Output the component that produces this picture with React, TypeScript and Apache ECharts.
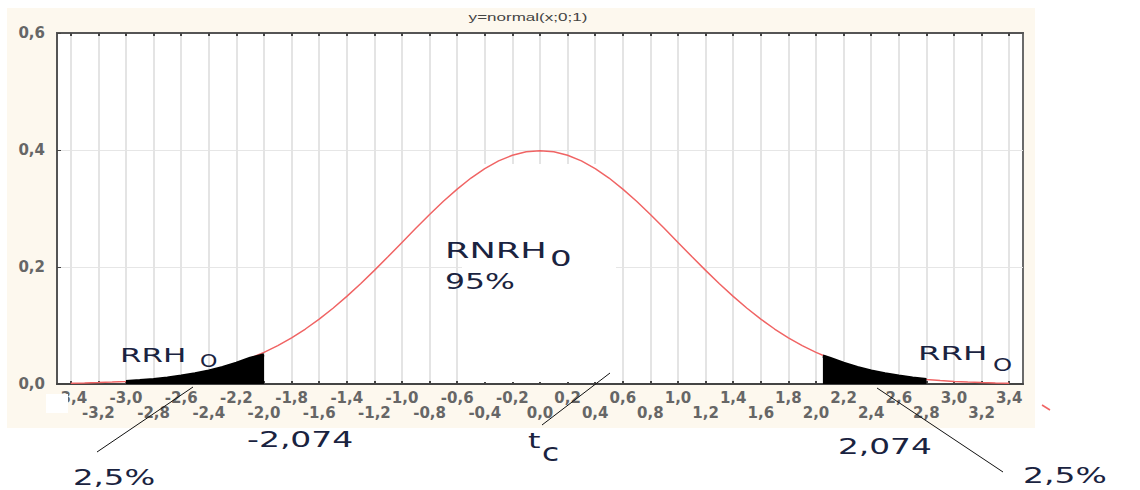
import React, { useEffect, useRef } from "react";
import * as echarts from "echarts";

// x positions of the plotted normal density curve
const curveX = [
  -3.4, -3.3, -3.2, -3.1, -3.0, -2.9, -2.8, -2.7, -2.6, -2.5, -2.4, -2.3, -2.2, -2.1, -2.0,
  -1.9, -1.8, -1.7, -1.6, -1.5, -1.4, -1.3, -1.2, -1.1, -1.0, -0.9, -0.8, -0.7, -0.6, -0.5,
  -0.4, -0.3, -0.2, -0.1, 0.0, 0.1, 0.2, 0.3, 0.4, 0.5, 0.6, 0.7, 0.8, 0.9, 1.0, 1.1, 1.2,
  1.3, 1.4, 1.5, 1.6, 1.7, 1.8, 1.9, 2.0, 2.1, 2.2, 2.3, 2.4, 2.5, 2.6, 2.7, 2.8, 2.9, 3.0,
  3.1, 3.2, 3.3, 3.4,
];
// y values
const curveY = [
  0.0012, 0.0017, 0.0024, 0.0033, 0.0044, 0.006, 0.0079, 0.0104, 0.0136, 0.0175, 0.0224,
  0.0283, 0.0355, 0.044, 0.054, 0.0656, 0.079, 0.094, 0.1109, 0.1295, 0.1497, 0.1714, 0.1942,
  0.2179, 0.242, 0.2661, 0.2897, 0.3123, 0.3332, 0.3521, 0.3683, 0.3814, 0.391, 0.397, 0.3989,
  0.397, 0.391, 0.3814, 0.3683, 0.3521, 0.3332, 0.3123, 0.2897, 0.2661, 0.242, 0.2179, 0.1942,
  0.1714, 0.1497, 0.1295, 0.1109, 0.094, 0.079, 0.0656, 0.054, 0.044, 0.0355, 0.0283, 0.0224,
  0.0175, 0.0136, 0.0104, 0.0079, 0.006, 0.0044, 0.0033, 0.0024, 0.0017, 0.0012,
];

// shaded rejection tails
const leftTailX = [-3.0, -2.9, -2.8, -2.7, -2.6, -2.5, -2.4, -2.3, -2.2, -2.1, -2.0];
const leftTailY = [0.0044, 0.006, 0.0079, 0.0104, 0.0136, 0.0175, 0.0224, 0.0283, 0.0355, 0.044, 0.05];
const rightTailX = [2.05, 2.1, 2.2, 2.3, 2.4, 2.5, 2.6, 2.7, 2.8];
const rightTailY = [0.0478, 0.044, 0.0355, 0.0283, 0.0224, 0.0175, 0.0136, 0.0104, 0.0079];

// axis ticks / labels
const xGridTicks = [
  -3.4, -3.2, -3.0, -2.8, -2.6, -2.4, -2.2, -2.0, -1.8, -1.6, -1.4, -1.2, -1.0, -0.8, -0.6,
  -0.4, -0.2, 0.0, 0.2, 0.4, 0.6, 0.8, 1.0, 1.2, 1.4, 1.6, 1.8, 2.0, 2.2, 2.4, 2.6, 2.8, 3.0,
  3.2, 3.4,
];
const xTopRowLabels = [
  -3.4, -3.0, -2.6, -2.2, -1.8, -1.4, -1.0, -0.6, -0.2, 0.2, 0.6, 1.0, 1.4, 1.8, 2.2, 2.6, 3.0, 3.4,
];
const xBottomRowLabels = [
  -3.2, -2.8, -2.4, -2.0, -1.6, -1.2, -0.8, -0.4, 0.0, 0.4, 0.8, 1.2, 1.6, 2.0, 2.4, 2.8, 3.2,
];
const yMin = 0;
const yMax = 0.6;
const yStep = 0.2;
const xMin = -3.5;
const xMax = 3.5;

const titleText = "y=normal(x;0;1)";

const fmt = (v: number) => (Math.abs(v) < 1e-9 ? 0 : v).toFixed(1).replace(".", ",");

const INK = "#1a2340";
const FONT = "'DejaVu Sans', Verdana, sans-serif";

function txt(text: string, x: number, y: number, size: number, sx: number, extra: any = {}) {
  return {
    type: "text",
    x,
    y,
    scaleX: sx,
    z: 20,
    style: {
      text,
      x: 0,
      y: 0,
      fill: INK,
      fontSize: size,
      fontFamily: FONT,
      textAlign: "left",
      align: "left",
      textVerticalAlign: "middle",
      verticalAlign: "middle",
      ...extra,
    },
  };
}

function seg(x1: number, y1: number, x2: number, y2: number, color = "#111", w = 1) {
  return {
    type: "line",
    z: 20,
    shape: { x1, y1, x2, y2 },
    style: { stroke: color, lineWidth: w },
  };
}

export default function App() {
  const ref = useRef<HTMLDivElement>(null);

  useEffect(() => {
    if (!ref.current) return;
    const chart = echarts.init(ref.current, undefined, { renderer: "svg" });
    const labelStyle = {
      color: "#666",
      fontSize: 15,
      fontWeight: "bold" as const,
      fontFamily: FONT,
    };
    const option: any = {
      animation: false,
      backgroundColor: "#ffffff",
      grid: {
        left: 57,
        right: 117,
        top: 33,
        bottom: 106,
        show: true,
        backgroundColor: "#ffffff",
        borderColor: "#6a6a6a",
        borderWidth: 2,
      },
      xAxis: [
        {
          type: "value",
          min: xMin,
          max: xMax,
          position: "bottom",
          axisLine: { show: true, onZero: false, lineStyle: { color: "#444", width: 2 } },
          axisTick: {
            show: true,
            inside: true,
            length: 3,
            customValues: xGridTicks,
            lineStyle: { color: "#444", width: 2 },
          },
          axisLabel: {
            ...labelStyle,
            margin: 6,
            customValues: xTopRowLabels,
            formatter: (v: number) => fmt(v),
          },
          splitLine: { show: true, lineStyle: { color: "#e4e4e4", width: 2 } },
        },
        {
          type: "value",
          min: xMin,
          max: xMax,
          position: "bottom",
          offset: 15,
          axisLine: { show: false, onZero: false },
          axisTick: { show: false },
          axisLabel: {
            ...labelStyle,
            margin: 6,
            customValues: xBottomRowLabels,
            formatter: (v: number) => fmt(v),
          },
          splitLine: { show: false },
        },
        {
          type: "value",
          min: xMin,
          max: xMax,
          position: "top",
          axisLine: { show: true, onZero: false, lineStyle: { color: "#555", width: 2 } },
          axisTick: {
            show: true,
            inside: true,
            length: 3,
            customValues: xGridTicks,
            lineStyle: { color: "#444", width: 2 },
          },
          axisLabel: { show: false },
          splitLine: { show: false },
        },
      ],
      yAxis: {
        type: "value",
        min: yMin,
        max: yMax,
        interval: yStep,
        axisLine: { show: true, onZero: false, lineStyle: { color: "#555", width: 2 } },
        axisTick: { show: true, inside: true, length: 4, lineStyle: { color: "#444" } },
        axisLabel: { ...labelStyle, margin: 12, formatter: (v: number) => fmt(v) },
        splitLine: { show: true, lineStyle: { color: "#e6e6e6", width: 1 } },
      },
      series: [
        {
          type: "line",
          xAxisIndex: 0,
          data: curveX.map((x, i) => [x, curveY[i]]),
          showSymbol: false,
          symbol: "none",
          lineStyle: { color: "#f06464", width: 1.5 },
          z: 3,
        },
        {
          type: "line",
          xAxisIndex: 0,
          data: leftTailX.map((x, i) => [x, leftTailY[i]]),
          showSymbol: false,
          symbol: "none",
          lineStyle: { color: "#000", width: 3 },
          areaStyle: { color: "#000", opacity: 1 },
          z: 4,
        },
        {
          type: "line",
          xAxisIndex: 0,
          data: rightTailX.map((x, i) => [x, rightTailY[i]]),
          showSymbol: false,
          symbol: "none",
          lineStyle: { color: "#000", width: 3 },
          areaStyle: { color: "#000", opacity: 1 },
          z: 4,
        },
      ],
      graphic: [
        // beige frame background
        {
          type: "rect",
          z: -1,
          shape: { x: 7, y: 8, width: 1028, height: 420 },
          style: { fill: "#fdf8ee" },
        },
        // erased grid patch in the middle of the plot
        {
          type: "rect",
          z: 1,
          shape: { x: 462, y: 164, width: 154, height: 218 },
          style: { fill: "#ffffff" },
        },
        // erased patch over the first tick label
        {
          type: "rect",
          z: 30,
          shape: { x: 46, y: 394, width: 22, height: 19 },
          style: { fill: "#ffffff" },
        },
        // title
        {
          type: "text",
          x: 528,
          y: 17,
          scaleX: 1.55,
          z: 20,
          style: {
            text: titleText,
            x: 0,
            y: 0,
            fill: "#444",
            fontSize: 11,
            fontFamily: "Arial, 'Liberation Sans', sans-serif",
            textAlign: "center",
            align: "center",
            textVerticalAlign: "middle",
            verticalAlign: "middle",
          },
        },
        txt("RNRH", 445, 250.5, 22, 1.6),
        txt("0", 550, 258.5, 22, 1.55),
        txt("95%", 445, 281.5, 22, 1.43),
        txt("RRH", 120, 355.5, 20, 1.55),
        txt("O", 200, 361.5, 17, 1.3),
        txt("RRH", 918, 352.5, 20, 1.62),
        txt("O", 993, 365, 18, 1.35),
        txt("-2,074", 247, 440, 22, 1.5),
        txt("2,074", 838, 446.5, 22, 1.49),
        txt("2,5%", 73, 477.5, 22, 1.47),
        txt("2,5%", 1023, 476, 22, 1.5),
        txt("t", 528, 440.5, 22, 1.45),
        txt("c", 542, 453, 24, 1.3),
        seg(97, 452, 193, 387),
        seg(877, 388, 1003, 472),
        seg(542, 425, 610, 373),
        seg(1042, 405, 1050, 410, "#f06464", 1.5),
      ],
    };
    chart.setOption(option);
    return () => chart.dispose();
  }, []);

  return (
    <div
      ref={ref}
      style={{ position: "fixed", left: 0, top: 0, width: 1140, height: 490 }}
    />
  );
}
